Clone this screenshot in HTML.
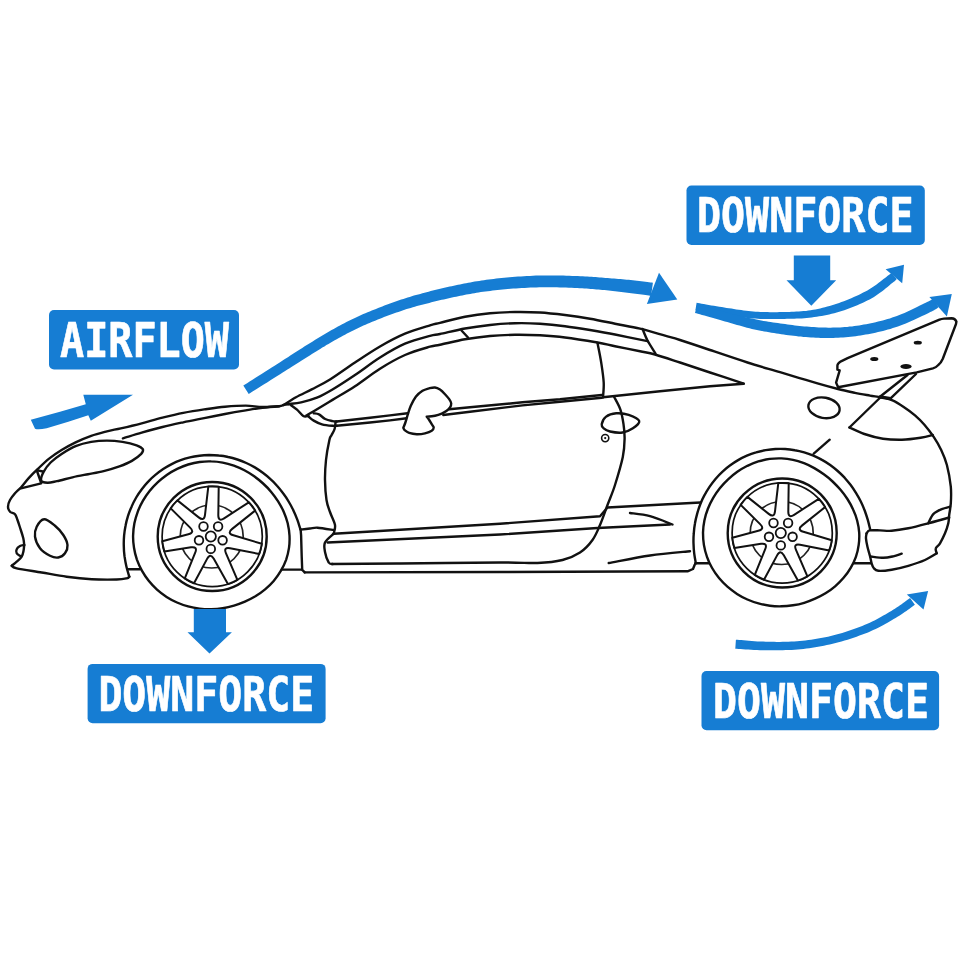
<!DOCTYPE html>
<html lang="en">
<head>
<meta charset="utf-8">
<title>Airflow and downforce diagram</title>
<style>
html,body{margin:0;padding:0;background:#fff;}
body{width:960px;height:960px;overflow:hidden;font-family:"DejaVu Sans Mono","Liberation Mono",monospace;}
svg{display:block;will-change:transform;}
.lbl{font-family:"DejaVu Sans Mono","Liberation Mono",monospace;font-weight:bold;fill:#fff;stroke:#fff;stroke-width:.7px;stroke-linejoin:round;}
</style>
</head>
<body>
<svg width="960" height="960" viewBox="0 0 960 960">
<rect width="960" height="960" fill="#fff"/>
<g id="car" fill="none" stroke="#111" stroke-width="2.4" stroke-linecap="round" stroke-linejoin="round">
<path d="M288.7 404.3C287.8 404.4 285.1 404.7 283.5 405C281.9 405.3 282.7 405.9 279.2 406.2C275.7 406.5 268.1 407.1 262.5 407C256.9 406.9 252.1 405.7 245.8 405.6C239.6 405.6 231.9 406.1 225 406.7C218.1 407.3 211.1 408.4 204.2 409.4C197.2 410.4 190.2 411.5 183.3 412.9C176.4 414.3 169.4 416 162.5 417.7C155.6 419.4 148.6 421.5 141.7 423.3C134.8 425.1 126.6 427 120.8 428.3C115 429.6 111.8 430.1 106.9 431.3C102 432.6 96.4 434 91.2 435.8C86 437.6 80.5 440 75.6 442.4C70.7 444.8 66 447.3 61.6 450C57.2 452.7 53 455.5 49.1 458.6C45.2 461.7 41.5 465.4 38.1 468.7C34.7 471.9 31.6 475 28.7 478.1C25.8 481.2 23.2 485 20.9 487.5C18.6 490 16.8 491.2 15 493.3C13.2 495.4 11.2 497.8 10 500C8.8 502.2 8 504.8 8 506.7C8 508.6 8.8 510.4 10 511.7C11.2 513 13.8 512.8 15 514.2C16.2 515.6 16.5 517.4 17.5 520C18.5 522.6 19.8 527 20.8 530C21.8 533 22.7 535.8 23.3 538.3C23.9 540.8 24.1 543.9 24.2 545"/>
<path d="M24.2 545C23.5 545.2 21.2 545.3 20 546C18.8 546.7 17.2 548 16.7 549.2C16.1 550.4 16.1 552.2 16.7 553.3C17.2 554.4 19.4 555.4 20 555.8"/>
<path d="M24.2 545C24.1 546 23.9 549 23.5 551C23.1 553 22.8 554.9 21.7 556.7C20.6 558.5 18.4 560.2 16.7 561.7C15 563.2 12.5 565.1 11.7 565.8"/>
<path d="M11.7 565.8C12.5 566.2 11.7 567.2 16.7 568.3C21.7 569.4 33.4 571.1 41.7 572.5C50 573.9 58.4 575.6 66.7 576.7C75 577.8 83.4 578.7 91.7 579.2C100 579.7 110.9 579.6 116.7 579.5C122.5 579.4 124.6 578.8 126.7 578.3C128.8 577.8 129 576.9 129.4 576.6"/>
<path d="M122.9 438.3C126 437.4 135.1 434.6 141.7 432.7C148.3 430.8 155.6 428.7 162.5 427C169.4 425.3 176.4 423.8 183.3 422.3C190.2 420.8 197.2 419.5 204.2 418.1C211.1 416.7 218.1 415.3 225 414C231.9 412.7 239.6 411.4 245.8 410.4C252.1 409.3 256.9 408.4 262.5 407.7C268.1 407 276.4 406.4 279.2 406.2"/>
<path d="M41.2 480.5C40.6 478.7 42 474.9 43.6 471.9C45.2 468.9 47.6 465.5 50.6 462.5C53.6 459.5 57.4 456.6 61.6 453.9C65.8 451.2 70.7 448.1 75.6 446.1C80.5 444.1 86 442.8 91.2 441.9C96.4 441 101.7 440.6 106.9 440.6C112.1 440.6 117.5 441.1 122.5 441.9C127.5 442.7 133.2 444.1 136.6 445.3C140 446.5 142 447.8 142.8 449.2C143.6 450.6 143 451.9 141.2 453.9C139.4 455.8 135.5 458.8 131.9 460.9C128.3 463 124.1 464.7 119.4 466.4C114.7 468.1 108.9 469.8 103.7 471.1C98.5 472.4 93.3 473.2 88.1 474.2C82.9 475.2 77.7 476.1 72.5 477.3C67.3 478.5 61.1 480.3 56.9 481.2C52.7 482.1 50.1 482.9 47.5 482.8C44.9 482.7 41.9 482.3 41.2 480.5Z"/>
<path d="M20.9 488.3L41.2 483.4"/>
<path d="M37.5 470.3L42.8 471.5"/>
<path d="M37 471L41 482.5"/>
<path d="M44.2 519.2C41.2 519.4 38.2 523.8 36.7 526.7C35.2 529.6 34.5 533.1 35 536.7C35.5 540.3 37.5 545.1 40 548.3C42.5 551.5 47 554.3 50 555.8C53 557.3 55.8 557.9 58.3 557.5C60.8 557.1 63.5 555.4 65 553.3C66.5 551.2 67.8 548 67.5 545C67.2 542 65.4 538.2 63.3 535C61.2 531.8 58.2 528.4 55 525.8C51.8 523.2 47.2 519.1 44.2 519.2Z"/>
<path d="M129.3 576.7C128.8 575 127.2 569.9 126.4 566.5C125.6 563.1 125 559.6 124.5 556.2C124.1 552.8 123.8 549.3 123.8 545.9C123.7 542.4 123.8 539 124.1 535.6C124.4 532.2 124.9 528.9 125.6 525.5C126.2 522.2 127.1 518.9 128.1 515.7C129.1 512.6 130.3 509.4 131.7 506.4C133 503.3 134.6 500.3 136.2 497.5C137.9 494.6 139.8 491.8 141.8 489.2C143.8 486.5 145.9 484 148.2 481.6C150.4 479.2 152.8 477 155.4 474.9C157.9 472.8 160.5 470.8 163.2 469C166 467.2 168.8 465.6 171.7 464.1C174.6 462.6 177.6 461.3 180.7 460.2C183.7 459.1 186.8 458.2 190 457.4C193.1 456.6 196.3 456.1 199.5 455.7C202.7 455.3 205.9 455.1 209.1 455C212.3 455 215.5 455.1 218.7 455.5C221.9 455.8 225.1 456.3 228.2 457C231.3 457.6 234.4 458.5 237.4 459.5C240.5 460.5 243.4 461.7 246.3 463C249.2 464.3 252.1 465.8 254.8 467.4C257.6 469.1 260.2 470.9 262.8 472.8C265.4 474.7 267.8 476.7 270.2 478.9C272.6 481 274.9 483.3 277 485.7C279.2 488.1 281.2 490.7 283.1 493.3C285.1 495.9 286.9 498.6 288.6 501.5C290.3 504.3 291.9 507.2 293.3 510.2C294.8 513.3 296.1 516.4 297.3 519.6C298.5 522.8 299.9 527.8 300.5 529.4"/>
<path d="M300.6 529.4L301.1 535.4L301.7 556.2L302.2 569.8L304.8 572.4"/>
<path d="M128.3 569.3L139.8 569.3"/>
<path d="M281.9 569.6L301.7 569.6"/>
<path d="M133.1 535.5C133.2 531.4 133.6 527.3 134.4 523.3C135.2 519.3 136.4 515.4 137.8 511.6C139.2 507.8 141 504.2 143 500.7C145 497.2 147.3 493.9 149.8 490.8C152.2 487.7 155 484.8 157.9 482.1C160.8 479.4 163.9 477 167.1 474.7C170.3 472.5 173.7 470.5 177.2 468.8C180.8 467.1 184.4 465.7 188.2 464.5C191.9 463.4 195.7 462.5 199.6 462C203.4 461.5 207.3 461.2 211.2 461.4C215.1 461.5 219 461.9 222.7 462.6C226.5 463.3 230.3 464.4 233.9 465.6C237.5 466.9 241 468.5 244.4 470.3C247.8 472.1 251.1 474.1 254.2 476.3C257.3 478.5 260.3 480.9 263.1 483.5C266 486.1 268.7 488.9 271.2 491.9C273.7 494.9 276 498 278.1 501.3C280.2 504.7 282.2 508.2 283.8 511.9C285.4 515.5 286.7 519.4 287.7 523.3C288.6 527.3 289.3 531.4 289.5 535.5C289.7 539.5 289.6 543.7 289 547.8C288.4 551.8 287.4 555.9 286.1 559.8C284.7 563.6 282.9 567.4 280.8 570.9C278.8 574.4 276.3 577.8 273.7 580.9C271.1 583.9 268.1 586.8 265.1 589.3C262 591.9 258.7 594.2 255.4 596.3C252 598.3 248.5 600.1 244.9 601.7C241.4 603.2 237.7 604.6 234 605.6C230.3 606.7 226.5 607.6 222.7 608.2C218.9 608.8 215.1 609.1 211.2 609.2C207.3 609.3 203.5 609.1 199.6 608.6C195.8 608.2 191.9 607.5 188.1 606.4C184.4 605.4 180.6 604.1 177 602.5C173.4 600.9 169.9 599 166.6 596.9C163.2 594.7 160 592.3 157 589.6C154.1 586.9 151.2 584 148.7 580.8C146.2 577.7 143.9 574.3 141.9 570.7C140 567.2 138.3 563.4 136.9 559.6C135.6 555.7 134.6 551.7 134 547.7C133.3 543.7 133 539.5 133.1 535.5Z"/>
<circle cx="212.2" cy="536.5" r="54.5"/>
<circle cx="212.2" cy="536.5" r="50.1" stroke-width="1.7"/>
<circle cx="211.7" cy="536.5" r="31.5" stroke-width="1.7" stroke="#222"/>
<path d="M208.3 486.6A50.1 50.1 0 0 1 218.7 486.8L218.3 515.1Q218.2 522.1 224.1 518.3L248.8 502.3A50.1 50.1 0 0 1 255.1 510.6L232.2 528.9Q226.7 533.3 233.4 535.3L261.8 543.8A50.1 50.1 0 0 1 259.2 553.9L230.1 548.3Q223.2 546.9 226 553.4L237.4 579.8A50.1 50.1 0 0 1 227.9 584.1L213.8 558.8Q210.4 552.7 207.1 558.9L194 583.2A50.1 50.1 0 0 1 184.8 578.4L195.2 552.7Q197.9 546.3 191 547.3L164.4 551.4A50.1 50.1 0 0 1 162.3 541.2L188.3 534.3Q195.1 532.5 190.1 527.6L170.7 508.4A50.1 50.1 0 0 1 177.4 500.4L198.7 517.4Q204.2 521.7 205 514.8L208.3 486.6Z" fill="#fff" stroke-width="2"/>
<circle cx="210.8" cy="536.5" r="5.1" stroke-width="1.8"/>
<circle cx="210.8" cy="548.9" r="4.3" fill="#fff" stroke-width="1.8"/>
<circle cx="199" cy="540.3" r="4.3" fill="#fff" stroke-width="1.8"/>
<circle cx="203.5" cy="526.5" r="4.3" fill="#fff" stroke-width="1.8"/>
<circle cx="218.1" cy="526.5" r="4.3" fill="#fff" stroke-width="1.8"/>
<circle cx="222.6" cy="540.3" r="4.3" fill="#fff" stroke-width="1.8"/>
<path d="M703 532.6C703.1 528.6 703.6 524.4 704.4 520.5C705.2 516.5 706.4 512.5 707.9 508.8C709.4 505 711.2 501.3 713.2 497.9C715.2 494.4 717.5 491.1 720 488C722.5 484.9 725.2 482 728.1 479.3C731 476.6 734.1 474.1 737.3 471.8C740.5 469.6 743.9 467.6 747.4 465.8C750.9 464.1 754.6 462.6 758.3 461.4C762 460.3 765.9 459.4 769.8 458.9C773.6 458.4 777.6 458.3 781.5 458.4C785.3 458.6 789.2 459.1 793 459.9C796.7 460.7 800.4 461.9 804 463.2C807.6 464.6 811 466.3 814.3 468.1C817.6 470 820.8 472.1 823.8 474.3C826.9 476.5 829.8 478.9 832.6 481.5C835.3 484.1 838 486.8 840.5 489.8C843 492.7 845.3 495.8 847.4 499C849.5 502.3 851.5 505.7 853.1 509.4C854.8 513 856.2 516.8 857.2 520.7C858.2 524.5 858.9 528.6 859.2 532.6C859.4 536.7 859.3 540.9 858.7 544.9C858.2 548.9 857.2 553 855.9 556.8C854.5 560.7 852.8 564.4 850.7 567.9C848.7 571.4 846.2 574.8 843.6 577.8C841 580.9 838.1 583.7 835.1 586.3C832.1 588.9 828.8 591.2 825.5 593.3C822.2 595.3 818.7 597.1 815.1 598.7C811.6 600.3 807.9 601.7 804.2 602.8C800.5 603.9 796.8 604.7 793 605.3C789.2 605.9 785.3 606.3 781.5 606.3C777.6 606.4 773.7 606.2 769.9 605.7C766 605.2 762.2 604.5 758.5 603.4C754.7 602.4 751 601.1 747.4 599.5C743.8 597.9 740.3 596 737 593.9C733.7 591.7 730.4 589.3 727.4 586.7C724.4 584 721.6 581.1 719 578C716.5 574.9 714.1 571.5 712.1 568C710.1 564.5 708.3 560.7 707 556.8C705.6 553 704.6 549 703.9 544.9C703.2 540.9 703 536.7 703 532.6Z"/>
<circle cx="782.2" cy="533" r="54.5"/>
<circle cx="782.2" cy="533" r="50.1" stroke-width="1.7"/>
<circle cx="781.7" cy="533" r="31.5" stroke-width="1.7" stroke="#222"/>
<path d="M778.3 483.1A50.1 50.1 0 0 1 788.7 483.3L788.3 511.6Q788.2 518.6 794.1 514.8L818.8 498.8A50.1 50.1 0 0 1 825.1 507.1L802.2 525.4Q796.7 529.8 803.4 531.8L831.8 540.3A50.1 50.1 0 0 1 829.2 550.4L800.1 544.8Q793.2 543.4 796 549.9L807.4 576.3A50.1 50.1 0 0 1 797.9 580.6L783.8 555.3Q780.4 549.2 777.1 555.4L764 579.7A50.1 50.1 0 0 1 754.8 574.9L765.2 549.2Q767.9 542.8 761 543.8L734.4 547.9A50.1 50.1 0 0 1 732.3 537.7L758.3 530.8Q765.1 529 760.1 524.1L740.7 504.9A50.1 50.1 0 0 1 747.4 496.9L768.7 513.9Q774.2 518.2 775 511.3L778.3 483.1Z" fill="#fff" stroke-width="2"/>
<circle cx="780.8" cy="533" r="5.1" stroke-width="1.8"/>
<circle cx="780.8" cy="545.4" r="4.3" fill="#fff" stroke-width="1.8"/>
<circle cx="769" cy="536.8" r="4.3" fill="#fff" stroke-width="1.8"/>
<circle cx="773.5" cy="523" r="4.3" fill="#fff" stroke-width="1.8"/>
<circle cx="788.1" cy="523" r="4.3" fill="#fff" stroke-width="1.8"/>
<circle cx="792.6" cy="536.8" r="4.3" fill="#fff" stroke-width="1.8"/>
<path d="M283.5 405C285.6 403.7 291.3 399.8 296 397.2C300.7 394.6 306 392.3 311.7 389.4C317.4 386.4 322.8 384 330 379.5C337.2 375 346.7 368 355 362.5C363.3 357 371.7 351.3 380 346.5C388.3 341.7 396.7 337.2 405 333.7C413.3 330.2 424.2 327.1 430 325.3C435.8 323.5 434.2 324.2 440 322.8C445.8 321.4 456.7 318.4 465 316.8C473.3 315.2 481.7 314 490 313.2C498.3 312.4 506.7 312.1 515 312C523.3 311.9 531.7 312 540 312.5C548.3 313 556.7 314 565 315C573.3 316 581.7 317.2 590 318.7C598.3 320.1 606.7 322 615 323.7C623.3 325.4 631.7 326.7 640 328.7C648.3 330.7 658.3 333.8 665 335.7C671.7 337.6 672.5 337.6 680 340C687.5 342.4 698.8 346.2 710 350C721.2 353.8 735.8 358.8 747.5 362.5C759.2 366.2 771.5 369.6 780 372.2C788.5 374.8 792.5 375.9 798.7 377.8C805 379.7 811 381.5 817.5 383.4C824 385.3 831.8 387.4 838 389C844.2 390.6 849.7 391.7 855 392.8C860.3 393.9 865.6 394.8 870 395.6C874.4 396.4 877.5 396.7 881.2 397.5C885 398.3 888.8 398.7 892.5 400.3C896.2 401.9 900 404.4 903.7 406.9C907.5 409.4 911.5 412.3 915 415.3C918.5 418.3 921.3 421.1 924.4 424.7C927.5 428.3 930.9 432.7 933.7 436.9C936.5 441.1 939 445.3 941.2 450C943.4 454.7 945.3 458.9 946.9 465C948.5 471.1 950.1 480.3 950.8 486.7C951.4 493.1 951.1 498.6 950.8 503.3C950.5 508 949.6 511.7 949.2 515C948.8 518.3 949 520.2 948.3 523.3C947.6 526.3 946.4 530 945 533.3C943.6 536.6 941.5 540.8 940 543.3C938.5 545.8 936.3 546.6 935.8 548.3C935.2 550 936.6 552.5 936.7 553.3"/>
<path d="M288.7 404C290.8 403.7 296.5 403.4 301.2 402.4C305.9 401.3 311.7 399.8 316.9 397.7C322.1 395.6 326.1 393.3 332.5 389.5C338.9 385.7 347.1 380.3 355 375C362.9 369.7 371.7 362.7 380 357.5C388.3 352.3 396.7 347.3 405 343.7C413.3 340.1 424.2 337.4 430 335.8C435.8 334.2 434.2 335.2 440 334C445.8 332.8 456.7 330 465 328.5C473.3 327 481.7 325.9 490 325C498.3 324.1 506.7 323.4 515 323.2C523.3 323 531.7 323.2 540 323.7C548.3 324.2 556.7 325.1 565 326.2C573.3 327.2 581.7 328.6 590 330C598.3 331.4 605.4 332.6 615 334.5C624.6 336.4 642.1 340.1 647.5 341.2"/>
<path d="M306.5 415.4C307.7 414.7 309.4 413.8 313.7 411.2C318 408.6 325.6 404.1 332.5 399.9C339.4 395.7 347.1 391.4 355 386.2C362.9 381 371.7 373.9 380 368.7C388.3 363.5 396.7 358.7 405 355C413.3 351.3 424.2 348.4 430 346.7C435.8 345 434.2 345.9 440 344.7C445.8 343.5 456.7 340.8 465 339.3C473.3 337.9 481.7 336.8 490 336C498.3 335.2 506.7 334.9 515 334.8C523.3 334.7 531.7 334.9 540 335.3C548.3 335.8 555.4 336.3 565 337.5C574.6 338.7 589.2 341.1 597.5 342.5C605.8 343.9 607.9 344.8 615 346.2C622.1 347.6 633.3 349.8 640 351.2C646.7 352.6 648.3 352.6 655 354.5C661.7 356.4 670.8 359.5 680 362.5C689.2 365.5 699.4 369 710 372.5C720.6 376 738.1 381.8 743.7 383.7"/>
<path d="M743.7 383.7L710 386.2L660 391.2L603 397.3"/>
<path d="M601.7 395L560 399.3L522.5 402.3L470 407.3L449.2 409.3"/>
<path d="M407.5 413.3L390 415.4L370 417.7L336.7 421.5"/>
<path d="M601.7 397.7L560 401.8L522.5 405.4L470 411.7L443.3 415"/>
<path d="M406.7 418.3L390 420.4L370 422.5L336.7 425.8"/>
<path d="M642.5 328.9C643.3 330.8 645.3 336.4 647.5 340.5C649.7 344.6 654.2 351.3 655.5 353.5"/>
<path d="M461.5 330.5L468 337.5"/>
<path d="M290.8 405C291.8 405.8 294.9 407.9 297 409.7C299.1 411.5 301.4 414.9 303.3 416C305.2 417.1 307.6 416 308.5 416"/>
<path d="M313.7 413.3C314.6 413.5 317.1 413.4 319 414.4C320.9 415.3 322.9 417.9 325.2 419C327.4 420.1 330.6 420.7 332.5 421.1C334.4 421.5 336 421.4 336.7 421.5"/>
<path d="M308.5 416.5C309.4 417.2 311.4 419.3 313.7 420.6C315.9 421.9 318.9 423.4 322 424.3C325.1 425.2 330.1 425.6 332.5 425.8C334.9 426.1 336 425.8 336.7 425.8"/>
<path d="M597.5 343C598.1 346.2 600.2 355.9 601.2 362.5C602.2 369.1 603.4 376.7 603.7 382.5C604 388.3 603.1 395 603 397.5"/>
<path d="M335.6 421.7C335.4 422.9 335.3 426.8 334.6 429C333.9 431.2 332.4 433.4 331.5 435.2C330.6 437 330.3 435.9 329.4 440C328.5 444.1 326.7 453.3 326 460C325.3 466.7 324.9 473.3 325 480C325.1 486.7 325.7 494.7 326.5 500C327.3 505.3 328.6 507.8 330 512C331.4 516.2 334.4 521.4 335 525C335.6 528.6 333.9 532.2 333.7 533.7"/>
<path d="M614.2 397C615.2 399.1 618.9 405.1 620.4 409.6C621.9 414.1 622.8 419.4 623.5 424.2C624.2 429 624.7 433.2 624.6 438.7C624.5 444.2 624.4 449.3 622.8 457C621.2 464.7 617.5 477 615 485C612.5 493 610 498.3 607.5 505C605 511.7 602.5 519.2 600 525C597.5 530.8 595.8 535.4 592.5 540C589.2 544.6 585 549.2 580 552.5C575 555.8 569.6 558.2 562.5 560C555.4 561.8 547.9 562.6 537.5 563C527.1 563.4 522.9 562.4 500 562.5C477.1 562.6 428 563.2 400 563.5C372 563.8 343.3 563.9 332 564"/>
<path d="M403.3 427.9C403.6 427 404.6 424.8 405.4 422.5C406.2 420.2 407 417 407.9 414.2C408.8 411.4 409.5 408.7 410.8 405.8C412.1 402.9 413.9 399.2 415.8 396.7C417.8 394.2 420.3 392.2 422.5 390.8C424.7 389.4 427.1 388.9 429.2 388.3C431.3 387.8 433.2 387.3 435 387.5C436.8 387.7 438.3 388.5 440 389.6C441.7 390.7 443.5 392.6 445 394.2C446.5 395.8 448.2 397.7 449.2 399.2C450.2 400.7 451.1 401.9 451.2 403.3C451.3 404.7 450.8 406.2 450 407.5C449.2 408.8 448.1 409.8 446.7 410.8C445.3 411.8 443.6 412.9 441.7 413.7C439.8 414.5 437.5 415.3 435 415.8C432.5 416.3 428.1 416.6 426.7 416.7L426.7 416.7C427.1 417.2 428.4 418.8 429.2 420C430 421.2 430.9 422.9 431.7 424.2C432.4 425.4 433.7 426.4 433.7 427.5C433.7 428.6 433.1 429.8 431.7 430.8C430.2 431.8 427.5 432.7 425 433.3C422.5 433.9 419.3 434.3 416.7 434.2C414.1 434.1 411.1 433.5 409.2 432.9C407.2 432.3 406 431.2 405 430.4C404 429.6 403.6 428.3 403.3 427.9Z" fill="#fff"/>
<path d="M601.7 424.2C602.1 422.3 603.4 418.7 605.8 416.9C608.2 415.1 612.4 413.6 616.2 413.3C620 413 624.9 413.5 628.7 414.8C632.5 416.1 638.5 418.8 639.2 421C639.9 423.2 635.7 426.4 632.9 428.3C630.1 430.2 626.3 432 622.5 432.5C618.7 433 613.1 432.2 610 431.5C606.9 430.8 605.1 429.5 603.7 428.3C602.3 427.1 601.4 426.1 601.7 424.2Z"/>
<circle cx="605.2" cy="438.1" r="3.6" stroke-width="1.6"/>
<circle cx="605.2" cy="438.1" r="1.1" fill="#111" stroke="none"/>
<path d="M300.6 529.6C302.2 529.4 307.2 528.8 310 528.5C312.8 528.2 313.6 527.5 317.5 527.7C321.4 528 331 529.6 333.7 530"/>
<path d="M304.8 572.4L500 572L687.5 571.3L693 569L694.7 564.8"/>
<path d="M333.7 533.7L500 523.7L600 516.2L607.5 507.5L700.4 502.5"/>
<path d="M327.5 542.5L500 534.5L597.5 528L670 524.5"/>
<path d="M333.7 533.7C332.2 535.2 326.4 539.5 325 542.5C323.6 545.5 324.4 548.7 325 552C325.6 555.3 327.4 560.5 328.7 562.5C329.9 564.5 331.9 563.8 332.5 564"/>
<path d="M630 513C633.3 513.5 642.9 514.3 650 516.2C657.1 518.1 668.8 523.1 672.5 524.5"/>
<path d="M608.7 563C615.6 561.8 636.5 557.5 650 555.5C663.5 553.5 683.3 551.9 690 551.2"/>
<path d="M695.9 563.5C695.6 561.8 694.6 556.7 694.2 553.3C693.8 550 693.6 546.6 693.5 543.2C693.4 539.9 693.5 536.5 693.8 533.2C694 529.9 694.4 526.5 695 523.3C695.5 520 696.3 516.8 697.2 513.6C698.1 510.4 699.1 507.3 700.3 504.2C701.5 501.1 702.9 498.1 704.5 495.2C706 492.3 707.7 489.5 709.5 486.8C711.4 484 713.4 481.4 715.5 478.9C717.6 476.4 719.9 474 722.3 471.8C724.7 469.6 727.2 467.4 729.9 465.5C732.5 463.6 735.3 461.7 738.1 460.1C740.9 458.5 743.9 457 746.9 455.7C749.9 454.4 753 453.3 756.1 452.4C759.2 451.4 762.4 450.7 765.7 450.1C768.9 449.6 772.1 449.2 775.4 449C778.6 448.8 781.9 448.8 785.1 449C788.4 449.2 791.6 449.6 794.8 450.2C798 450.7 801.2 451.5 804.2 452.4C807.3 453.3 810.4 454.4 813.4 455.6C816.3 456.9 819.2 458.3 822 459.9C824.8 461.4 827.6 463.2 830.2 465C832.8 466.9 835.3 468.9 837.7 471C840.1 473.1 842.4 475.4 844.6 477.7C846.7 480.1 848.8 482.6 850.7 485.1C852.6 487.7 854.4 490.4 856.1 493.1C857.8 495.8 859.4 498.7 860.8 501.6C862.2 504.5 863.5 507.5 864.7 510.5C865.8 513.6 866.9 516.7 867.8 519.9C868.7 523 869.8 528 870.2 529.6"/>
<path d="M695.2 563.2L708.7 563.2"/>
<path d="M854 563.2L870.6 563.2"/>
<ellipse cx="824" cy="407.8" rx="15.8" ry="10.2" transform="rotate(10 824 407.8)"/>
<path d="M849.4 427.5L880.3 397.5"/>
<path d="M849.4 427.5C851.9 428.6 858.8 432.1 864.4 434C870 435.9 876.8 437.8 883 438.7C889.2 439.6 895.6 439.8 901.9 439.7C908.2 439.6 915.5 438.6 920.6 437.8C925.8 437 930.8 435.5 932.8 435"/>
<path d="M813.7 453.7L829.7 439.7"/>
<path d="M837.4 369.7L837.4 365.5Q837.6 363.3 841 361.3L847.6 358.2L939.5 319.6Q941.5 318.8 944 318.6L951.5 318.3Q955 318.5 956.4 321.5L956 324L942.8 358.8Q941 363 938.3 365Q936 367.5 932.9 368.4L916.7 372.4L838.1 387.3L836.1 382.6L839.7 370.3Z" fill="#fff"/>
<path d="M907.5 375L880.3 396.5"/>
<path d="M916 374L890.6 398.4"/>
<path d="M880.3 396.8L890.6 398.6" stroke-width="3"/>
<ellipse cx="917.8" cy="342.7" rx="4.1" ry="1.9" fill="#111" stroke="none"/>
<ellipse cx="874.3" cy="359" rx="4.1" ry="2" fill="#111" stroke="none"/>
<ellipse cx="906" cy="366.5" rx="5.6" ry="2.6" fill="#111" stroke="none"/>
<path d="M950 506.7C948.6 507.1 944.5 507.9 941.7 509.2C938.9 510.4 935.5 511.9 933.3 514.2C931.1 516.6 929.1 521.8 928.3 523.3"/>
<path d="M866.5 533.5C867 533 867.4 530.9 869.6 530.4C871.9 529.9 876.3 530.3 880 530.4C883.7 530.5 887 531.1 891.7 530.8C896.4 530.4 902.2 529.5 908.3 528.3C914.4 527 921.5 525.1 928.3 523.3C935.1 521.5 945.7 518.5 949.2 517.5"/>
<path d="M866.5 533.5C866.4 534.4 865.8 536.5 866 538.7C866.2 541 866.8 544 867.5 547C868.2 550 869.4 553.7 870.1 556.5C870.8 559.3 871.1 561.8 871.7 563.7C872.3 565.6 872.6 566.8 873.7 568C874.8 569.2 875.3 570.5 878.3 570.8C881.3 571.1 886.7 570.5 891.7 569.7C896.7 568.9 902.8 567.4 908.3 565.8C913.8 564.2 920.3 562.1 925 560C929.7 557.9 934.8 554.4 936.7 553.3"/>
<path d="M870.6 556.5C872.7 556.7 879.5 557.8 883.3 557.8C887.1 557.8 890.2 557 893.3 556.3C896.4 555.6 900.3 554.1 901.7 553.7"/>
</g>
<g id="flow" fill="#167dd3" stroke="none">
<rect x="49" y="310" width="190" height="59.4" rx="5" ry="5"/>
<text class="lbl" x="60" y="357.2" font-size="47.8" textLength="169" lengthAdjust="spacingAndGlyphs">AIRFLOW</text>
<rect x="686.5" y="185.5" width="238.3" height="59.4" rx="5" ry="5"/>
<text class="lbl" x="697" y="232.3" font-size="47.8" textLength="216.5" lengthAdjust="spacingAndGlyphs">DOWNFORCE</text>
<rect x="87.6" y="663.9" width="238" height="59.3" rx="5" ry="5"/>
<text class="lbl" x="98.4" y="710.5" font-size="47.8" textLength="215.8" lengthAdjust="spacingAndGlyphs">DOWNFORCE</text>
<rect x="701.5" y="671" width="237.6" height="59.3" rx="5" ry="5"/>
<text class="lbl" x="713" y="717.6" font-size="47.8" textLength="216" lengthAdjust="spacingAndGlyphs">DOWNFORCE</text>
<path d="M793.8 255.5L830.2 255.5L830.2 280.3L836.2 280.3L811.3 305.8L786.5 280.3L793.8 280.3Z"/>
<path d="M193.8 609L226 609L226 632.3L231.9 632.3L209.5 653.6L187.5 632.3L193.8 632.3Z"/>
<path d="M30.8 419.7L60 411.7L85.8 404.2L83.3 394.7L133 394.7L90.8 420.8L88.3 415.3L68.3 421.7L46.7 428.3Q38 430 35 428.7Z"/>
<path d="M248.7 394L250.3 393L252.5 391.6L255 390.1L257.8 388.3L260.9 386.3L264.1 384.3L267.5 382.2L270.8 380.1L274 378.1L277.2 376.1L280.1 374.3L282.7 372.6L285.1 371.1L287.4 369.6L289.6 368.2L291.8 366.8L293.8 365.5L295.8 364.2L297.8 363L299.8 361.7L301.7 360.5L303.7 359.2L305.7 357.9L307.7 356.7L309.8 355.4L311.9 354.1L314 352.8L316.1 351.5L318.1 350.2L320.2 348.9L322.3 347.6L324.4 346.4L326.4 345.1L328.5 343.9L330.5 342.7L332.6 341.5L334.7 340.3L336.7 339.2L338.8 338L340.8 336.9L342.9 335.8L345 334.7L347 333.6L349.1 332.5L351.1 331.5L353.2 330.4L355.2 329.4L357.3 328.4L359.3 327.5L361.4 326.5L363.4 325.6L365.5 324.7L367.5 323.8L369.6 322.9L371.6 322.1L373.7 321.2L375.7 320.4L377.8 319.6L379.9 318.7L381.9 317.9L384 317.1L386.1 316.3L388.1 315.6L390.2 314.8L392.3 314L394.3 313.3L396.4 312.6L398.4 311.9L400.5 311.2L402.5 310.5L404.6 309.8L406.6 309.1L408.7 308.5L410.7 307.9L412.8 307.3L414.8 306.7L416.9 306.1L419 305.6L421 305L423.1 304.5L425.1 303.9L427.2 303.4L429.3 302.9L431.4 302.3L433.4 301.8L435.5 301.3L437.6 300.8L439.6 300.3L441.7 299.8L443.8 299.4L445.8 298.9L447.9 298.4L449.9 298L452 297.5L454.1 297.1L456.2 296.7L458.2 296.3L460.3 295.8L462.3 295.4L464.3 295L466.3 294.6L468.3 294.3L470.3 293.9L472.3 293.5L474.4 293.2L476.5 292.8L478.6 292.5L480.8 292.1L483.1 291.8L485.4 291.5L487.8 291.2L490.2 290.9L492.6 290.6L495.1 290.3L497.5 290L500.1 289.7L502.6 289.5L505.2 289.2L507.8 289L510.5 288.8L513.2 288.6L516 288.4L518.8 288.2L521.7 288L524.6 287.9L527.5 287.7L530.4 287.6L533.4 287.5L536.3 287.4L539.3 287.3L542.2 287.2L545.1 287.2L548 287.2L550.9 287.2L553.9 287.2L556.9 287.3L559.9 287.4L562.9 287.5L565.9 287.6L568.8 287.7L571.7 287.8L574.5 287.9L577.2 288.1L579.7 288.2L582.1 288.3L584.4 288.5L586.6 288.6L588.7 288.7L590.7 288.9L592.7 289.1L594.6 289.2L596.5 289.4L598.5 289.6L600.4 289.8L602.4 289.9L604.5 290.1L606.5 290.3L608.6 290.6L610.7 290.8L612.8 291L615 291.2L617.1 291.5L619.1 291.7L621.2 292L623.3 292.2L625.3 292.5L627.3 292.7L629.3 293L631.2 293.2L633.3 293.5L635.4 293.7L637.5 294L639.7 294.3L641.7 294.6L643.7 294.8L645.5 295.1L647.2 295.3L648.8 295.6L650.1 295.7L651.1 295.9L652.9 282.7L651.8 282.6L650.5 282.4L649 282.2L647.3 282L645.4 281.8L643.4 281.5L641.3 281.3L639.2 281L637 280.8L634.9 280.5L632.8 280.3L630.7 280L628.7 279.8L626.7 279.7L624.6 279.5L622.6 279.3L620.4 279.1L618.3 278.9L616.2 278.7L614 278.5L611.9 278.4L609.8 278.2L607.6 278L605.5 277.9L603.5 277.7L601.5 277.5L599.5 277.4L597.5 277.2L595.6 277.1L593.6 276.9L591.6 276.8L589.5 276.7L587.3 276.5L585.1 276.4L582.7 276.3L580.3 276.2L577.7 276.1L575 276L572.2 275.9L569.3 275.8L566.3 275.7L563.3 275.6L560.2 275.5L557.2 275.4L554.1 275.4L551 275.4L547.9 275.4L544.9 275.4L542 275.5L539 275.5L535.9 275.6L532.9 275.7L529.9 275.9L526.9 276L523.9 276.2L520.9 276.4L518 276.6L515.1 276.8L512.3 277L509.5 277.2L506.8 277.5L504.1 277.7L501.5 278L498.8 278.3L496.2 278.5L493.7 278.9L491.2 279.2L488.7 279.5L486.3 279.8L483.9 280.2L481.5 280.5L479.2 280.9L476.9 281.2L474.6 281.6L472.4 282L470.3 282.4L468.2 282.8L466.1 283.2L464.1 283.6L462 284L460 284.4L458 284.8L455.9 285.3L453.8 285.7L451.7 286.2L449.7 286.6L447.6 287.1L445.4 287.6L443.3 288.1L441.2 288.5L439.1 289L437 289.6L434.9 290.1L432.8 290.6L430.7 291.1L428.6 291.7L426.5 292.2L424.5 292.8L422.4 293.3L420.3 293.9L418.2 294.5L416 295L413.9 295.6L411.8 296.3L409.7 296.9L407.6 297.5L405.5 298.2L403.4 298.9L401.2 299.6L399.1 300.3L397 301L394.9 301.7L392.8 302.5L390.7 303.2L388.6 304L386.5 304.8L384.4 305.6L382.3 306.4L380.2 307.2L378.1 308.1L376 308.9L373.9 309.7L371.8 310.6L369.7 311.5L367.6 312.3L365.4 313.2L363.3 314.1L361.2 315.1L359.1 316L357 317L354.9 318L352.7 319L350.6 320L348.5 321.1L346.4 322.1L344.3 323.2L342.1 324.3L340 325.5L337.9 326.6L335.8 327.7L333.7 328.9L331.6 330.1L329.5 331.3L327.4 332.5L325.3 333.7L323.2 335L321.1 336.2L319 337.5L316.9 338.8L314.8 340.1L312.7 341.4L310.6 342.7L308.5 344L306.4 345.3L304.3 346.6L302.3 347.9L300.2 349.2L298.2 350.5L296.2 351.8L294.2 353.1L292.3 354.3L290.3 355.6L288.3 356.9L286.2 358.2L284.1 359.6L281.9 361L279.7 362.5L277.3 364L274.6 365.7L271.7 367.5L268.6 369.5L265.4 371.6L262 373.7L258.7 375.8L255.5 377.8L252.5 379.8L249.6 381.6L247.1 383.2L245 384.5L243.3 385.6Z"/>
<path d="M677.3 299.4L659 272.7L646.9 304Z"/>
<path d="M695.4 310.2L696.7 310.4L698.3 310.7L700.3 311.1L702.5 311.4L704.8 311.9L707.4 312.3L710 312.8L712.7 313.2L715.4 313.7L718.1 314.1L720.7 314.5L723.1 314.9L725.5 315.2L727.9 315.6L730.4 315.9L732.8 316.3L735.3 316.6L737.8 317L740.3 317.3L742.8 317.6L745.3 317.8L747.8 318.1L750.3 318.3L752.7 318.5L755.2 318.6L757.7 318.8L760.1 318.9L762.6 319L765 319L767.5 319L769.9 319.1L772.3 319.1L774.8 319L777.2 319L779.6 319L782.1 318.9L784.5 318.9L786.9 318.8L789.4 318.8L791.8 318.8L794.3 318.7L796.7 318.6L799.2 318.5L801.7 318.4L804.2 318.2L806.7 318L809.2 317.7L811.7 317.4L814.2 317L816.7 316.7L819.2 316.3L821.7 315.9L824.2 315.4L826.7 314.9L829.2 314.4L831.7 313.8L834.2 313.2L836.7 312.5L839.2 311.8L841.7 311L844.3 310.2L846.9 309.3L849.5 308.3L852.1 307.3L854.7 306.3L857.3 305.2L859.9 304.1L862.4 302.9L864.9 301.8L867.3 300.6L869.6 299.4L871.8 298.2L874 296.9L876.1 295.5L878.2 294.1L880.3 292.6L882.2 291.2L884.1 289.7L885.8 288.3L887.5 287L889 285.7L890.3 284.6L891.5 283.6L892.6 282.8L893.5 282.1L894.3 281.4L894.9 280.9L895.4 280.5L895.8 280.1L896.1 279.7L896.4 279.4L896.7 279.1L896.8 279L896.8 278.9L896.7 279L896.7 279L891.3 273L891.1 273.2L890.8 273.5L890.6 273.7L890.5 273.8L890.5 273.8L890.4 273.8L890.3 273.9L890 274.1L889.6 274.4L889.1 274.8L888.4 275.3L887.4 276L886.3 276.9L885 277.9L883.5 279L882 280.2L880.4 281.5L878.7 282.8L876.9 284.2L875.1 285.5L873.2 286.8L871.3 288.1L869.3 289.3L867.4 290.4L865.4 291.5L863.2 292.6L861 293.8L858.6 294.9L856.2 296L853.8 297.1L851.3 298.2L848.8 299.3L846.4 300.3L843.9 301.2L841.4 302.1L839.1 303L836.7 303.8L834.4 304.6L832 305.3L829.6 306L827.3 306.6L824.9 307.3L822.6 307.8L820.2 308.4L817.8 308.9L815.4 309.4L813.1 309.8L810.7 310.2L808.3 310.6L806 310.9L803.6 311.1L801.2 311.3L798.8 311.5L796.4 311.6L794 311.7L791.6 311.8L789.2 311.9L786.8 312L784.4 312L781.9 312.1L779.5 312.1L777.1 312.2L774.7 312.2L772.3 312.2L769.9 312.2L767.5 312.1L765.2 312.1L762.8 312L760.4 311.9L758 311.8L755.6 311.7L753.3 311.5L750.9 311.3L748.5 311L746.1 310.8L743.6 310.5L741.2 310.1L738.8 309.8L736.3 309.4L733.9 309L731.5 308.6L729 308.3L726.6 307.9L724.3 307.5L721.8 307.1L719.3 306.7L716.6 306.3L713.9 305.8L711.3 305.4L708.7 304.9L706.1 304.5L703.8 304.1L701.6 303.7L699.6 303.3L698 303L696.6 302.8Z"/>
<path d="M904 264.8L885.6 269.2L902.2 283.2Z"/>
<path d="M695 312.9L696.3 313.3L697.9 313.7L699.9 314.3L702 314.9L704.4 315.6L706.9 316.3L709.5 317.1L712.2 317.8L714.9 318.6L717.5 319.3L720.1 320.1L722.5 320.7L724.9 321.4L727.3 322.1L729.7 322.8L732.1 323.5L734.6 324.2L737 324.9L739.5 325.6L742 326.3L744.5 327L747 327.7L749.5 328.3L751.9 328.9L754.4 329.4L756.9 329.9L759.3 330.4L761.8 330.9L764.2 331.4L766.7 331.8L769.1 332.3L771.5 332.7L774 333.1L776.4 333.5L778.8 333.8L781.3 334.2L783.7 334.5L786.2 334.9L788.6 335.2L791.1 335.5L793.5 335.8L796 336.1L798.5 336.4L800.9 336.6L803.4 336.9L805.9 337.1L808.4 337.3L810.9 337.4L813.3 337.6L815.8 337.7L818.3 337.8L820.8 337.9L823.2 337.9L825.7 338L828.2 338L830.7 338L833.2 337.9L835.7 337.8L838.2 337.7L840.7 337.6L843.2 337.4L845.7 337.2L848.2 337L850.7 336.8L853.2 336.5L855.7 336.2L858.2 335.8L860.6 335.5L863.1 335.1L865.6 334.6L868.1 334.2L870.6 333.7L873.1 333.2L875.5 332.7L878 332.1L880.5 331.5L883 330.9L885.5 330.3L887.9 329.6L890.4 328.9L892.9 328.1L895.4 327.3L897.9 326.5L900.5 325.6L903.1 324.6L905.8 323.5L908.6 322.3L911.4 321.1L914.2 319.8L916.9 318.6L919.5 317.3L922.1 316.1L924.5 314.9L926.6 313.9L928.6 312.9L930.3 312.1L931.7 311.4L933 310.7L934.1 310.2L935 309.6L935.8 309.2L936.5 308.8L937 308.4L937.5 308.1L937.8 307.8L938.1 307.6L938.3 307.5L938.5 307.3L933.5 298.7L933.1 298.9L932.7 299.1L932.3 299.3L931.9 299.5L931.6 299.7L931.2 300L930.7 300.2L930.1 300.6L929.3 301L928.3 301.5L927.1 302L925.7 302.7L924 303.5L922 304.5L919.9 305.6L917.5 306.7L915 308L912.4 309.2L909.8 310.5L907.1 311.7L904.5 312.9L901.8 314.1L899.3 315.1L896.9 316L894.6 316.8L892.2 317.6L889.9 318.4L887.5 319.1L885.2 319.8L882.8 320.4L880.5 321L878.1 321.6L875.7 322.2L873.4 322.7L871 323.2L868.6 323.7L866.2 324.2L863.8 324.6L861.5 325L859.1 325.4L856.7 325.7L854.3 326.1L852 326.4L849.6 326.6L847.2 326.9L844.8 327.1L842.5 327.3L840.1 327.4L837.7 327.5L835.4 327.6L833 327.6L830.6 327.7L828.3 327.7L825.9 327.6L823.5 327.6L821.1 327.5L818.7 327.4L816.3 327.2L813.9 327.1L811.5 327L809.1 326.8L806.8 326.6L804.4 326.4L802 326.2L799.6 325.9L797.2 325.7L794.8 325.4L792.4 325.1L790 324.8L787.6 324.5L785.1 324.1L782.7 323.8L780.3 323.5L777.9 323.1L775.5 322.8L773.1 322.5L770.7 322.1L768.4 321.7L766 321.3L763.6 320.9L761.2 320.5L758.8 320.1L756.4 319.6L754.1 319.1L751.7 318.6L749.3 318.1L746.8 317.5L744.4 317L742 316.4L739.5 315.8L737 315.1L734.6 314.5L732.1 313.9L729.7 313.3L727.3 312.6L724.9 312.1L722.4 311.4L719.8 310.8L717.1 310.1L714.4 309.5L711.8 308.8L709.1 308.1L706.6 307.5L704.2 306.9L702 306.3L700.1 305.9L698.4 305.5L697 305.1Z"/>
<path d="M951.8 294L929.4 296.9L946.9 316.4Z"/>
<path d="M735.3 648.7L736.7 648.8L738.5 648.9L740.6 649L742.9 649.2L745.5 649.4L748.2 649.5L751.1 649.7L754 649.9L757 650L760 650.2L762.9 650.3L765.7 650.3L768.5 650.3L771.3 650.3L774.1 650.3L777 650.3L779.9 650.3L782.8 650.2L785.8 650.1L788.7 650L791.7 649.9L794.7 649.7L797.7 649.5L800.6 649.2L803.5 648.9L806.4 648.5L809.3 648.2L812.2 647.7L815.2 647.3L818.1 646.8L821 646.3L823.9 645.7L826.8 645.1L829.7 644.5L832.7 643.8L835.6 643.1L838.5 642.3L841.5 641.5L844.6 640.6L847.6 639.7L850.6 638.7L853.6 637.7L856.6 636.7L859.5 635.6L862.4 634.5L865.2 633.5L868 632.4L870.6 631.3L873.2 630.1L875.7 629L878.2 627.7L880.6 626.5L883 625.3L885.2 624L887.5 622.8L889.6 621.5L891.7 620.3L893.7 619.1L895.6 618L897.5 616.8L899.3 615.7L901.2 614.5L903 613.3L904.7 612.1L906.4 611L908 609.8L909.5 608.8L910.8 607.7L912.1 606.8L913.2 606L914.1 605.3L914.9 604.8L910.1 598L909.3 598.6L908.3 599.3L907.2 600.1L905.9 601.1L904.6 602L903.1 603.1L901.6 604.2L900 605.3L898.3 606.4L896.6 607.6L894.9 608.7L893.1 609.8L891.3 610.9L889.4 612L887.4 613.2L885.4 614.4L883.3 615.6L881.2 616.8L879 618L876.8 619.2L874.5 620.4L872.2 621.5L869.8 622.7L867.4 623.7L864.9 624.8L862.2 625.9L859.5 626.9L856.7 628L853.9 629L851 630L848.1 631L845.2 632L842.2 632.9L839.3 633.8L836.4 634.6L833.6 635.3L830.8 636L828 636.7L825.2 637.3L822.4 637.8L819.5 638.3L816.7 638.8L813.9 639.3L811.1 639.7L808.3 640.1L805.4 640.4L802.6 640.7L799.8 641L797 641.3L794.1 641.4L791.3 641.6L788.4 641.7L785.5 641.8L782.7 641.8L779.8 641.9L776.9 641.9L774.1 641.8L771.3 641.8L768.6 641.8L765.9 641.7L763.2 641.6L760.4 641.5L757.5 641.4L754.6 641.2L751.7 641L748.9 640.8L746.2 640.6L743.6 640.3L741.3 640.1L739.2 640L737.4 639.8L735.9 639.7Z"/>
<path d="M928.1 591L906.8 594.5L923.5 609.4Z"/>
</g>
</svg>
</body>
</html>
